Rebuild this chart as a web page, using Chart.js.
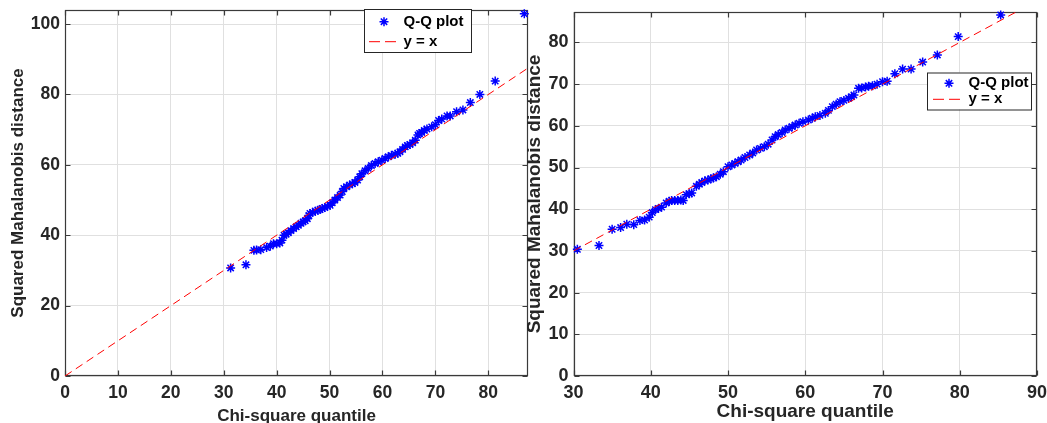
<!DOCTYPE html>
<html><head><meta charset="utf-8">
<script src="https://cdn.jsdelivr.net/npm/chart.js@4.4.1/dist/chart.umd.min.js"></script>
<style>
html,body{margin:0;padding:0;background:#fff;width:1047px;height:423px;overflow:hidden;}
#c1{position:absolute;left:0;top:0;}
#c2{position:absolute;left:520px;top:0;}
</style></head><body>
<canvas id="c1" width="545" height="423" style="width:545px;height:423px"></canvas>
<canvas id="c2" width="527" height="423" style="width:527px;height:423px"></canvas>
<script>
// ---- Left panel data (Chi-square quantile vs squared Mahalanobis distance)
const leftQuantiles = [31.3,34.2,35.7,36.2,37.0,38.1,38.8,39.4,40.0,40.6,41.0,41.4,41.8,42.2,42.7,43.2,43.7,44.1,44.6,45.0,45.4,45.8,46.1,46.3,46.8,47.3,47.8,48.2,48.6,49.1,49.6,50.1,50.5,51.0,51.5,52.0,52.4,52.7,53.2,53.8,54.3,54.8,55.3,55.7,56.1,56.7,57.3,57.9,58.6,59.2,59.9,60.5,61.1,61.7,62.4,62.9,63.3,63.8,64.3,64.7,65.2,65.7,66.2,66.7,67.0,67.4,67.9,68.4,69.3,70.0,70.6,71.2,72.2,72.8,74.0,75.2,76.6,78.4,81.3,86.8];
const leftDistances = [30.7,31.6,35.7,35.8,35.9,36.5,36.9,37.6,37.6,37.8,38.6,40.0,40.3,40.7,41.3,41.9,42.4,42.8,43.4,43.8,44.1,44.7,45.6,46.2,46.5,46.8,47.1,47.3,47.6,47.9,48.2,48.5,49.2,50.0,50.7,51.4,52.4,53.3,53.8,54.3,54.6,55.0,55.7,56.6,57.5,58.3,59.0,59.8,60.4,60.9,61.3,61.8,62.3,62.7,63.0,63.3,63.7,64.4,65.1,65.5,65.8,66.3,67.0,68.5,68.9,69.2,69.8,70.2,70.8,71.4,72.6,73.0,73.9,73.9,75.1,75.6,77.7,80.0,83.8,102.9];
const leftRefLine = [0, 90];
const leftXTicks = [0,10,20,30,40,50,60,70,80];
const leftYTicks = [0,20,40,60,80,100];

// ---- Right panel data
const rightQuantiles = [30.5,33.3,35.0,36.1,36.9,37.8,38.6,39.2,39.8,40.2,40.6,41.0,41.4,42.0,42.4,42.7,43.1,43.5,43.9,44.2,44.6,45.0,45.3,45.9,46.3,46.6,47.0,47.4,47.8,48.1,48.5,49.0,49.4,50.0,50.5,50.9,51.3,51.7,52.2,52.8,53.2,53.7,54.2,54.7,55.2,55.7,56.1,56.5,57.0,57.4,57.9,58.3,58.7,59.2,59.7,60.4,60.9,61.3,61.9,62.6,63.0,63.5,64.0,64.5,65.0,65.6,66.0,66.3,66.9,67.3,67.8,68.2,68.7,69.3,70.0,70.6,71.6,72.6,73.7,75.2,77.1,79.8,85.3];
const rightDistances = [30.4,31.3,35.2,35.6,36.4,36.3,37.3,37.4,38.1,39.2,39.9,40.2,40.5,41.5,41.9,42.1,42.1,42.1,42.2,42.1,43.5,43.7,43.9,45.5,46.0,46.4,46.8,47.0,47.3,47.5,47.8,48.4,49.0,50.2,50.6,51.0,51.4,51.8,52.4,53.0,53.5,54.2,54.6,55.0,55.6,56.6,57.4,57.9,58.4,59.0,59.4,59.8,60.2,60.6,61.0,61.4,61.8,62.2,62.5,63.0,63.7,64.6,65.2,65.8,66.1,66.6,67.0,67.4,69.0,69.1,69.3,69.5,69.6,70.0,70.6,70.7,72.5,73.6,73.6,75.3,77.0,81.4,86.6];
const rightRefLine = [30, 90];
const rightXTicks = [30,40,50,60,70,80,90];
const rightYTicks = [0,10,20,30,40,50,60,70,80];

const legendLabels = ['Q-Q plot', 'y = x'];
const xTitle = 'Chi-square quantile';
const yTitle = 'Squared Mahalanobis distance';

const FAMILY = '"Liberation Sans", Arial, Helvetica, sans-serif';
const TEXT = '#262626';

function drawStar(ctx, x, y, r) {
  ctx.beginPath();
  ctx.moveTo(x - r, y); ctx.lineTo(x + r, y);
  ctx.moveTo(x, y - r); ctx.lineTo(x, y + r);
  const d = r * Math.SQRT1_2;
  ctx.moveTo(x - d, y - d); ctx.lineTo(x + d, y + d);
  ctx.moveTo(x - d, y + d); ctx.lineTo(x + d, y - d);
  ctx.stroke();
}

const axesBox = {
  id: 'axesBox',
  beforeDatasetsDraw(chart, args, o) {
    const {ctx, chartArea: a, scales: {x, y}} = chart;
    ctx.save();
    ctx.strokeStyle = o.color; ctx.lineWidth = o.width;
    const L = Math.round(a.left) + 0.5, R = Math.round(a.right) - 0.5,
          T = Math.round(a.top) + 0.5, B = Math.round(a.bottom) - 0.5;
    ctx.strokeRect(L, T, R - L, B - T);
    ctx.beginPath();
    x.ticks.forEach(t => {
      const p = Math.round(x.getPixelForValue(t.value)) + 0.5;
      ctx.moveTo(p, B); ctx.lineTo(p, B - o.len);
      ctx.moveTo(p, T); ctx.lineTo(p, T + o.len);
    });
    y.ticks.forEach(t => {
      const p = Math.round(y.getPixelForValue(t.value)) + 0.5;
      ctx.moveTo(L, p); ctx.lineTo(L + o.len, p);
      ctx.moveTo(R, p); ctx.lineTo(R - o.len, p);
    });
    ctx.stroke();
    ctx.restore();
  }
};

const boxLegend = {
  id: 'boxLegend',
  afterDraw(chart, args, o) {
    const ctx = chart.ctx;
    const ds = chart.data.datasets;
    ctx.save();
    ctx.fillStyle = '#fff';
    ctx.fillRect(o.x, o.y, o.w, o.h);
    ctx.strokeStyle = '#262626'; ctx.lineWidth = 1;
    ctx.strokeRect(o.x + 0.5, o.y + 0.5, o.w, o.h);
    // entry 1 : marker
    ctx.strokeStyle = ds[1].borderColor; ctx.lineWidth = 1.5;
    drawStar(ctx, o.markerX, o.row1, 4.5);
    // entry 2 : dashed line
    ctx.strokeStyle = ds[0].borderColor; ctx.lineWidth = 1;
    ctx.setLineDash([11, 5]);
    ctx.beginPath(); ctx.moveTo(o.lineX0, o.row2); ctx.lineTo(o.lineX1, o.row2); ctx.stroke();
    ctx.setLineDash([]);
    ctx.fillStyle = '#000';
    ctx.font = 'bold ' + o.size + 'px ' + FAMILY;
    ctx.textBaseline = 'middle'; ctx.textAlign = 'left';
    ctx.fillText(ds[1].label, o.textX, o.row1);
    ctx.fillText(ds[0].label, o.textX, o.row2);
    ctx.restore();
  }
};

function makeChart(id, c) {
  const pts = c.qx.map((v, i) => ({x: v, y: c.qy[i]}));
  const ref = c.ref.map(v => ({x: v, y: v}));
  const tickFont = {family: FAMILY, size: c.tickSize, weight: 'bold'};
  return new Chart(document.getElementById(id), {
    type: 'scatter',
    data: {
      datasets: [
        {label: legendLabels[1], type: 'line', data: ref, borderColor: '#ff0000', borderWidth: 1,
         borderDash: [8, 5], pointRadius: 0, fill: false, order: 0},
        {label: legendLabels[0], data: pts, pointStyle: 'star', pointRadius: 4.5, pointHoverRadius: 4.5,
         borderColor: '#0000ff', backgroundColor: '#0000ff', pointBorderWidth: 1.5, order: 1, clip: false}
      ]
    },
    options: {
      responsive: false, animation: false, events: [],
      layout: {padding: c.pad},
      plugins: {legend: {display: false}, tooltip: {enabled: false},
                axesBox: {color: '#3a3a3a', width: 1.2, len: 5},
                boxLegend: c.legend},
      scales: {
        x: {
          type: 'linear', min: c.xmin, max: c.xmax,
          afterBuildTicks: s => { s.ticks = c.xTicks.map(v => ({value: v})); },
          afterFit: s => { s.height = c.xh; s.paddingLeft = 0; s.paddingRight = 0; },
          grid: {color: '#e0e0e0', lineWidth: 1, drawTicks: false},
          border: {display: false},
          ticks: {font: tickFont, color: TEXT, padding: c.xTickPad, maxRotation: 0, autoSkip: false},
          title: {display: true, text: xTitle, color: TEXT,
                  font: {family: FAMILY, size: c.titleSize, weight: 'bold', lineHeight: c.xTitleLH},
                  padding: {top: 0, bottom: c.xTitlePad}}
        },
        y: {
          type: 'linear', min: c.ymin, max: c.ymax,
          afterBuildTicks: s => { s.ticks = c.yTicks.map(v => ({value: v})); },
          afterFit: s => { s.width = c.yw; s.paddingTop = 0; s.paddingBottom = 0; },
          grid: {color: '#e0e0e0', lineWidth: 1, drawTicks: false},
          border: {display: false},
          ticks: {font: tickFont, color: TEXT, padding: 5, autoSkip: false},
          title: {display: true, text: yTitle, color: TEXT,
                  font: {family: FAMILY, size: c.titleSize, weight: 'bold'},
                  padding: {top: c.yTitlePad, bottom: 0}}
        }
      }
    },
    plugins: [axesBox, boxLegend]
  });
}

makeChart('c1', {
  qx: leftQuantiles, qy: leftDistances, ref: leftRefLine,
  xTicks: leftXTicks, yTicks: leftYTicks,
  xmin: 0, xmax: 87.5, ymin: 0, ymax: 104,
  pad: {top: 10, right: 17, bottom: 0, left: 0},
  xh: 47, yw: 65, tickSize: 17.5, titleSize: 17,
  xTickPad: 7, xTitleLH: 1.0, xTitlePad: -2, yTitlePad: 8,
  legend: {x: 364, y: 9, w: 107, h: 43, markerX: 384, row1: 21.7, row2: 41.7,
           lineX0: 369, lineX1: 396, textX: 403.5, size: 15}
});

makeChart('c2', {
  qx: rightQuantiles, qy: rightDistances, ref: rightRefLine,
  xTicks: rightXTicks, yTicks: rightYTicks,
  xmin: 30, xmax: 90, ymin: 0, ymax: 87.3,
  pad: {top: 12, right: 10, bottom: 0, left: 0},
  xh: 47, yw: 53.5, tickSize: 18, titleSize: 19,
  xTickPad: 6, xTitleLH: 1.2, xTitlePad: 0, yTitlePad: 3,
  legend: {x: 407, y: 72.5, w: 104, h: 37, markerX: 429, row1: 83.3, row2: 99.3,
           lineX0: 413, lineX1: 440, textX: 448.6, size: 15}
});
</script>
</body></html>
